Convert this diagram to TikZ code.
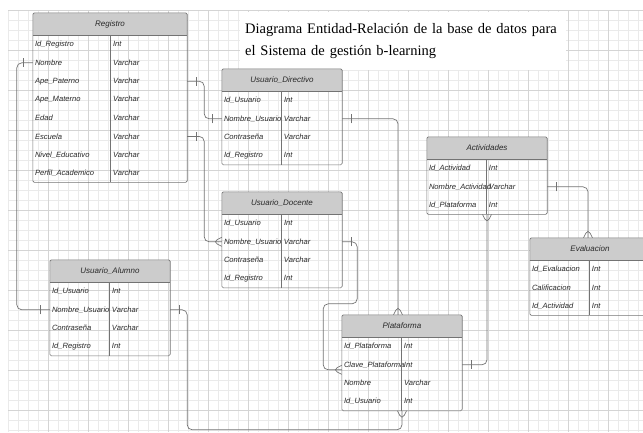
\documentclass[tikz,border=0pt]{standalone}
\usepackage{fontspec}
\setmainfont{Liberation Sans}
\newfontfamily\titlefont{Liberation Serif}
\usetikzlibrary{positioning,decorations.markings}
\definecolor{hdrgray}{RGB}{204,204,204}
\definecolor{linegray}{RGB}{115,115,115}
\definecolor{txtgray}{RGB}{40,40,40}
\definecolor{gridminor}{RGB}{234,234,234}
\definecolor{gridmajor}{RGB}{212,212,212}

\tikzstyle{hdr} = [rectangle, fill=hdrgray, minimum height=22pt, inner sep=0pt, text=txtgray, font=\fontsize{8}{9}\selectfont\itshape]
\tikzstyle{fld} = [rectangle, minimum height=18pt, inner xsep=2pt, inner ysep=0pt, align=left, text=txtgray, font=\fontsize{7.6}{9}\selectfont\itshape]
\tikzstyle{tbl} = [draw=linegray, line width=0.6pt, rounded corners=1.5pt]
\tikzstyle{rel} = [draw=linegray, line width=0.7pt, rounded corners=5pt]
\tikzstyle{onefrom} = [postaction={decorate,decoration={markings,mark=at position 9pt with {\draw[linegray, line width=0.7pt] (0,-4.5pt) -- (0,4.5pt);}}}]
\tikzstyle{oneto} = [postaction={decorate,decoration={markings,mark=at position -9pt with {\draw[linegray, line width=0.7pt] (0,-4.5pt) -- (0,4.5pt);}}}]
\tikzstyle{manyfrom} = [postaction={decorate,decoration={markings,mark=at position 9pt with {\draw[linegray, line width=0.7pt] (-9pt,4.5pt) -- (0,0) -- (-9pt,-4.5pt);}}}]
\tikzstyle{manyto} = [postaction={decorate,decoration={markings,mark=at position -9pt with {\draw[linegray, line width=0.7pt] (9pt,4.5pt) -- (0,0) -- (9pt,-4.5pt);}}}]

\begin{document}
\begin{tikzpicture}[x=1pt, y=-1pt]
\useasboundingbox (0,0) rectangle (643,432);
\clip (0,0) rectangle (643,432);
% background grid
\foreach \g in {8,18,...,643} \draw[gridminor, line width=0.5pt] (\g,10) -- (\g,432);
\foreach \g in {10,20,...,432} \draw[gridminor, line width=0.5pt] (8,\g) -- (643,\g);
\foreach \g in {48,88,...,643} \draw[gridmajor, line width=0.5pt] (\g,10) -- (\g,432);
\foreach \g in {10,50,...,432} \draw[gridmajor, line width=0.5pt] (8,\g) -- (643,\g);

\node (title) [anchor=north west, fill=white, text width=316pt, minimum height=58pt, inner xsep=5pt, align=left, font=\titlefont\fontsize{14.5}{22.5}\selectfont] at (240,12) {Diagrama Entidad-Relación de la base de datos para\\el Sistema de gestión b-learning};

% Registro
\node (reg0) [hdr, minimum width=154pt] at (110,24) {Registro};
\foreach \a/\b [count=\i, remember=\i as \j (initially 0)] in {Id\_Registro/Int, Nombre/Varchar, Ape\_Paterno/Varchar, Ape\_Materno/Varchar, Edad/Varchar, Escuela/Varchar, Nivel\_Educativo/Varchar, Perfil\_Academico/Varchar}
  \node (reg\i) [fld, text width=150pt, below=0pt of reg\j] {\makebox[78pt][l]{\a}\b};
\draw[tbl] (reg0.north west) rectangle (reg8.south east);
\draw[tbl] (reg0.south west) -- (reg0.south east) ([xshift=77pt]reg0.south west) -- ([xshift=77pt]reg8.south west);

% Usuario_Directivo
\node (dir0) [hdr, minimum width=120pt] at (282,80) {Usuario\_Directivo};
\foreach \a/\b [count=\i, remember=\i as \j (initially 0)] in {Id\_Usuario/Int, Nombre\_Usuario/Varchar, Contraseña/Varchar, Id\_Registro/Int}
  \node (dir\i) [fld, text width=116pt, below=0pt of dir\j] {\makebox[60pt][l]{\a}\b};
\draw[tbl] (dir0.north west) rectangle (dir4.south east);
\draw[tbl] (dir0.south west) -- (dir0.south east) ([xshift=59pt]dir0.south west) -- ([xshift=59pt]dir4.south west);

% Usuario_Docente
\node (doc0) [hdr, minimum width=120pt] at (282,203) {Usuario\_Docente};
\foreach \a/\b [count=\i, remember=\i as \j (initially 0)] in {Id\_Usuario/Int, Nombre\_Usuario/Varchar, Contraseña/Varchar, Id\_Registro/Int}
  \node (doc\i) [fld, text width=116pt, below=0pt of doc\j] {\makebox[60pt][l]{\a}\b};
\draw[tbl] (doc0.north west) rectangle (doc4.south east);
\draw[tbl] (doc0.south west) -- (doc0.south east) ([xshift=59pt]doc0.south west) -- ([xshift=59pt]doc4.south west);

% Usuario_Alumno
\node (alu0) [hdr, minimum width=120pt] at (110,271) {Usuario\_Alumno};
\foreach \a/\b [count=\i, remember=\i as \j (initially 0)] in {Id\_Usuario/Int, Nombre\_Usuario/Varchar, Contraseña/Varchar, Id\_Registro/Int}
  \node (alu\i) [fld, text width=116pt, below=0pt of alu\j] {\makebox[60pt][l]{\a}\b};
\draw[tbl] (alu0.north west) rectangle (alu4.south east);
\draw[tbl] (alu0.south west) -- (alu0.south east) ([xshift=59pt]alu0.south west) -- ([xshift=59pt]alu4.south west);

% Actividades
\node (act0) [hdr, minimum width=120pt] at (487,148) {Actividades};
\foreach \a/\b [count=\i, remember=\i as \j (initially 0)] in {Id\_Actividad/Int, Nombre\_Actividad/Varchar, Id\_Plataforma/Int}
  \node (act\i) [fld, text width=116pt, below=0pt of act\j] {\makebox[60pt][l]{\a}\b};
\draw[tbl] (act0.north west) rectangle (act3.south east);
\draw[tbl] (act0.south west) -- (act0.south east) ([xshift=59pt]act0.south west) -- ([xshift=59pt]act3.south west);

% Evaluacion
\node (eva0) [hdr, minimum width=120pt] at (590,249) {Evaluacion};
\foreach \a/\b [count=\i, remember=\i as \j (initially 0)] in {Id\_Evaluacion/Int, Calificacion/Int, Id\_Actividad/Int}
  \node (eva\i) [fld, text width=116pt, below=0pt of eva\j] {\makebox[60pt][l]{\a}\b};
\draw[tbl] (eva0.north west) rectangle (eva3.south east);
\draw[tbl] (eva0.south west) -- (eva0.south east) ([xshift=59pt]eva0.south west) -- ([xshift=59pt]eva3.south west);

% Plataforma
\node (pla0) [hdr, minimum width=120pt] at (402,326) {Plataforma};
\foreach \a/\b [count=\i, remember=\i as \j (initially 0)] in {Id\_Plataforma/Int, Clave\_Plataforma/Int, Nombre/Varchar, Id\_Usuario/Int}
  \node (pla\i) [fld, text width=116pt, below=0pt of pla\j] {\makebox[60pt][l]{\a}\b};
\draw[tbl] (pla0.north west) rectangle (pla4.south east);
\draw[tbl] (pla0.south west) -- (pla0.south east) ([xshift=59pt]pla0.south west) -- ([xshift=59pt]pla4.south west);

% relaciones
\draw[rel, onefrom, oneto] (reg2.west) -- ++(-16,0) |- (alu2.west);
\draw[rel, onefrom, oneto] (reg3.east) -- ++(17,0) |- (dir2.west);
\draw[rel, onefrom, manyto] (reg6.east) -- ++(17,0) |- (doc2.west);
\draw[rel, onefrom, manyto] (dir2.east) -| ([xshift=-4pt]pla0.north);
\draw[rel, onefrom, manyto] (doc2.east) -- ++(15,0) -- ++(0,62) -- ++(-34,0) |- ([yshift=-5pt]pla2.west);
\draw[rel, onefrom, manyto] (alu2.east) -- ++(17,0) |- ([yshift=-19pt]pla4.south) -- (pla4.south);
\draw[rel, manyfrom, oneto] (act3.south) |- (pla2.east);
\draw[rel, onefrom, manyto] (act2.east) -| ([xshift=-2pt]eva0.north);
\end{tikzpicture}
\end{document}
